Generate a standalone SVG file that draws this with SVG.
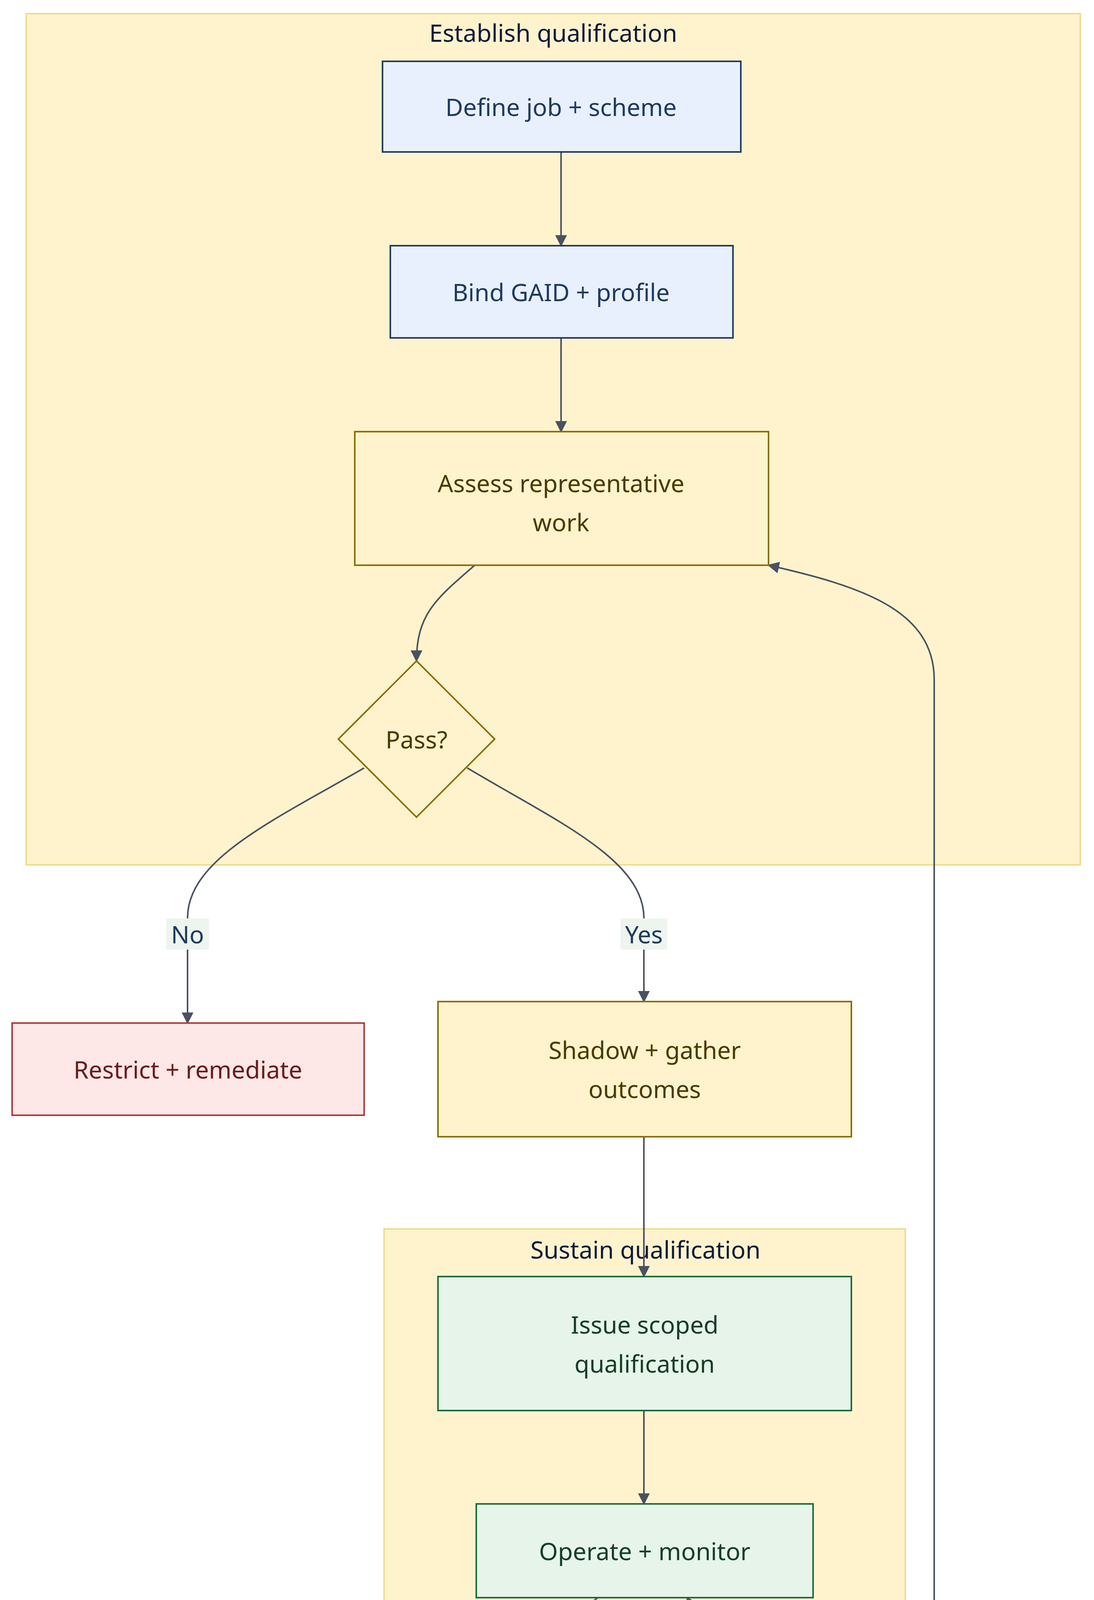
<svg xmlns="http://www.w3.org/2000/svg" width="2800" height="6100" viewBox="0 0 2800 6100">
<style>
text{font-family:"Noto Sans","Open Sans","DejaVu Sans",sans-serif;text-anchor:middle;dominant-baseline:central}
.cl{fill:#fff3cd;stroke:#f0dc90;stroke-width:4}
.ct{font-size:62px;fill:#0d1b3d}
.n{font-size:62px}
.blue{fill:#e8f0fe;stroke:#1f3a5f;stroke-width:4}
.bt{fill:#1f3a5f}
.yel{fill:#fff3cd;stroke:#8a6d00;stroke-width:4}
.yt{fill:#4a3a00}
.grn{fill:#e6f4ea;stroke:#1e6b3a;stroke-width:4}
.gt{fill:#173d26}
.red{fill:#fde7e7;stroke:#b03a3a;stroke-width:4}
.rt{fill:#6b1a1a}
.e{fill:none;stroke:#4a5160;stroke-width:4;marker-end:url(#a)}
.lb{fill:#eef5ee}
.lt{font-size:62px;fill:#1f3a5f}
</style>
<defs><marker id="a" viewBox="0 0 10 10" refX="9" refY="5" markerWidth="10" markerHeight="10" markerUnits="userSpaceOnUse" orient="auto"><path d="M0,0L10,5L0,10z" fill="#4a5160" transform="scale(1)"/></marker>
<marker id="b" viewBox="0 0 10 10" refX="9" refY="5" markerWidth="30" markerHeight="30" markerUnits="userSpaceOnUse" orient="auto"><path d="M0,0L10,5L0,10z" fill="#4a5160"/></marker></defs>
<rect width="2800" height="6100" fill="#fff"/>
<g id="cluster-establish"><rect class="cl" x="67" y="35" width="2698" height="2179"/><text class="ct" x="1416" y="83">Establish qualification</text></g>
<g id="cluster-sustain"><rect class="cl" x="983" y="3146" width="1334" height="2222"/><text class="ct" x="1652" y="3198">Sustain qualification</text></g>
<g id="connectors" style="--m:url(#b)">
<path class="e" style="marker-end:url(#b)" d="M1436,389L1436,629"/>
<path class="e" style="marker-end:url(#b)" d="M1436,865L1436,1105"/>
<path class="e" style="marker-end:url(#b)" d="M1215,1447C1120,1530 1066,1570 1066,1692"/>
<path class="e" style="marker-end:url(#b)" d="M932,1966C700,2100 480,2200 480,2350L480,2619"/>
<path class="e" style="marker-end:url(#b)" d="M1196,1966C1420,2100 1648,2200 1648,2350L1648,2564"/>
<path class="e" style="marker-end:url(#b)" d="M1648,2910L1648,3268"/>
<path class="e" style="marker-end:url(#b)" d="M1648,3611L1648,3850"/>
<path class="e" style="marker-end:url(#b)" d="M1530,4090C1450,4150 1400,4210 1410,4290C1420,4380 1470,4450 1514,4582"/>
<path class="e" style="marker-end:url(#b)" d="M1782,4570C1830,4490 1870,4420 1860,4330C1850,4230 1800,4150 1758,4090"/>
<path class="e" style="marker-end:url(#b)" d="M1652,5246L1652,5450C1652,5560 1740,5650 1829,5718"/>
<path class="e" style="marker-end:url(#b)" d="M2206,5718C2300,5650 2391,5590 2391,5450L2391,1740C2391,1560 2200,1500 1967,1447"/>
<rect class="lb" x="425" y="2351" width="110" height="80"/><text class="lt" x="480" y="2391">No</text>
<rect class="lb" x="1588" y="2351" width="120" height="80"/><text class="lt" x="1648" y="2391">Yes</text>
<rect class="lb" x="1841" y="4274" width="110" height="80"/><text class="lt" x="1896" y="4314">No</text>
<rect class="lb" x="1588" y="5509" width="120" height="80"/><text class="lt" x="1648" y="5549">Yes</text>
</g>
<g id="define"><rect class="blue" x="979" y="157" width="917" height="232"/><text class="n bt" x="1436" y="273">Define job + scheme</text></g>
<g id="bind"><rect class="blue" x="999" y="629" width="877" height="236"/><text class="n bt" x="1436" y="747">Bind GAID + profile</text></g>
<g id="assess"><rect class="yel" x="908" y="1105" width="1059" height="342"/><text class="n yt" x="1436" y="1236">Assess representative</text><text class="n yt" x="1436" y="1336">work</text></g>
<g id="pass"><path class="yel" d="M1066,1692L1266,1892L1066,2092L866,1892Z"/><text class="n yt" x="1066" y="1892">Pass?</text></g>
<g id="restrict"><rect class="red" x="31" y="2619" width="901" height="236"/><text class="n rt" x="481" y="2737">Restrict + remediate</text></g>
<g id="shadow"><rect class="yel" x="1121" y="2564" width="1058" height="346"/><text class="n yt" x="1650" y="2687">Shadow + gather</text><text class="n yt" x="1650" y="2787">outcomes</text></g>
<g id="issue"><rect class="grn" x="1121" y="3268" width="1058" height="343"/><text class="n gt" x="1650" y="3390">Issue scoped</text><text class="n gt" x="1650" y="3490">qualification</text></g>
<g id="operate"><rect class="grn" x="1219" y="3850" width="862" height="240"/><text class="n gt" x="1650" y="3970">Operate + monitor</text></g>
<g id="change"><path class="grn" d="M1652,4436L2057,4841L1652,5246L1247,4841Z"/><text class="n gt" x="1652" y="4841">Change or expiry?</text></g>
<g id="revalidate"><rect class="red" x="1491" y="5718" width="1062" height="343"/><text class="n rt" x="2022" y="5840">Revalidate + regress</text><text class="n rt" x="2022" y="5940">autonomy</text></g>
</svg>
